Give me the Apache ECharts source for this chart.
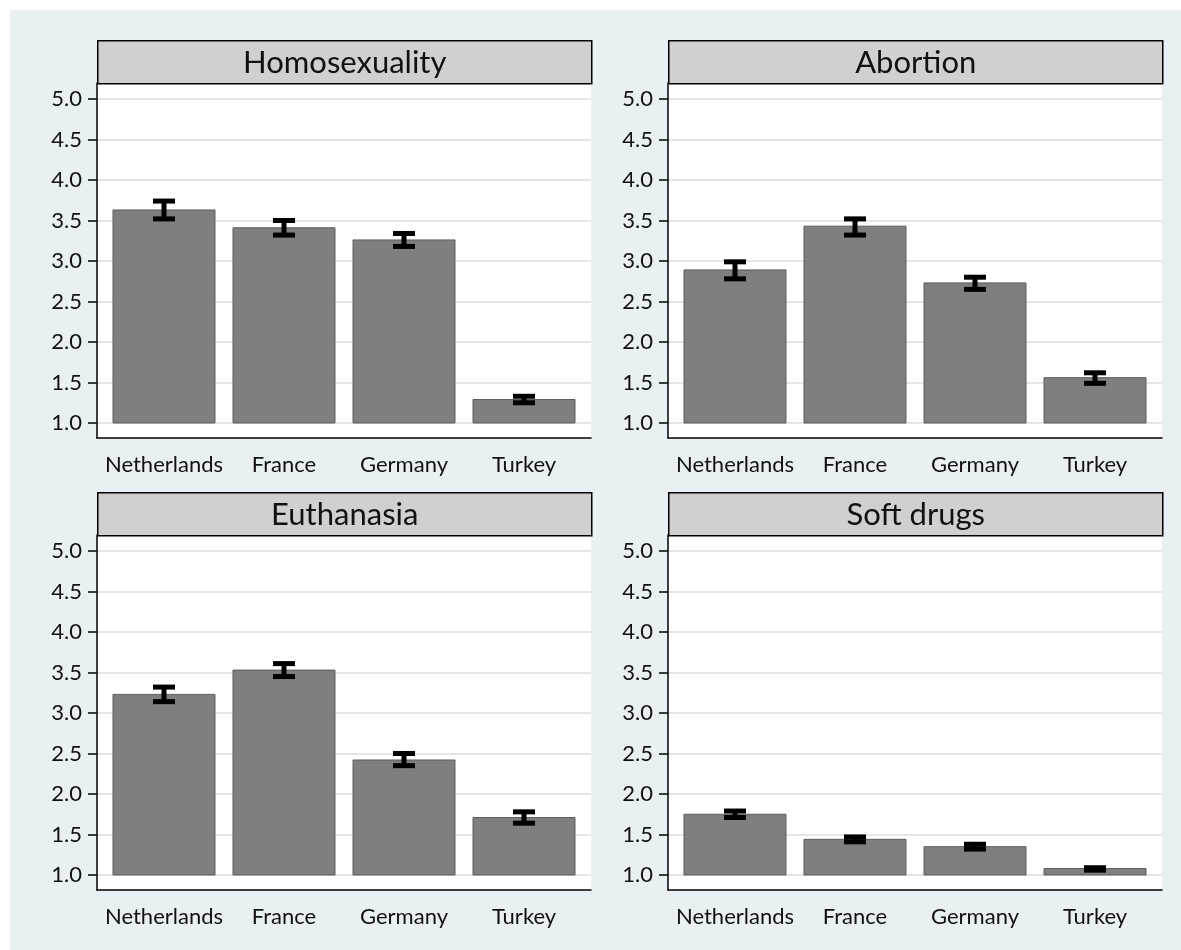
<!DOCTYPE html>
<html>
<head>
  <title>Attitudes by country</title>
  <script src="https://cdn.jsdelivr.net/npm/echarts@6/dist/echarts.min.js"></script>
  <style>
    body { margin: 0; background: #ffffff; }
    #chart { width: 1181px; height: 950px; }
  </style>
</head>
<body>
  <div id="chart"></div>

  <script>
    // Data
    const countries = ['Netherlands', 'France', 'Germany', 'Turkey'];
    const panelTitles = ['Homosexuality', 'Abortion', 'Euthanasia', 'Soft drugs'];
    const yTicks = [1.0, 1.5, 2.0, 2.5, 3.0, 3.5, 4.0, 4.5, 5.0];

    const homosexualityMean = [3.63, 3.41, 3.26, 1.29];
    const homosexualityLow  = [3.52, 3.32, 3.18, 1.25];
    const homosexualityHigh = [3.74, 3.50, 3.34, 1.33];

    const abortionMean = [2.89, 3.43, 2.73, 1.56];
    const abortionLow  = [2.78, 3.32, 2.65, 1.49];
    const abortionHigh = [2.99, 3.52, 2.80, 1.62];

    const euthanasiaMean = [3.23, 3.53, 2.42, 1.71];
    const euthanasiaLow  = [3.14, 3.45, 2.35, 1.64];
    const euthanasiaHigh = [3.32, 3.61, 2.50, 1.78];

    const softDrugsMean = [1.75, 1.44, 1.35, 1.08];
    const softDrugsLow  = [1.71, 1.41, 1.32, 1.06];
    const softDrugsHigh = [1.79, 1.47, 1.38, 1.09];

    const panelData = [
      [homosexualityMean, homosexualityLow, homosexualityHigh],
      [abortionMean, abortionLow, abortionHigh],
      [euthanasiaMean, euthanasiaLow, euthanasiaHigh],
      [softDrugsMean, softDrugsLow, softDrugsHigh]
    ];

    const BASE = 1; // bars start at 1.0
    const BAR_HALF = 0.425;
    const FONT = 'Lato';

    // plot areas (left, top) of each panel, all 494 x 355
    const panelPos = [[97, 83], [668, 83], [97, 535], [668, 535]];
    const PW = 494, PH = 355, HEADER_H = 43;

    const chart = echarts.init(document.getElementById('chart'));

    const grids = [], xAxes = [], yAxes = [], series = [];
    const graphics = [{
      type: 'rect', z: -10, silent: true,
      shape: { x: 10, y: 10, width: 1171, height: 940 },
      style: { fill: '#e9f0f3' }
    }];

    panelPos.forEach((p, i) => {
      grids.push({
        left: p[0], top: p[1], width: PW, height: PH,
        show: true, backgroundColor: '#ffffff', borderWidth: 0
      });
      xAxes.push({
        gridIndex: i, type: 'value', min: -0.5583, max: 3.5583,
        axisLine: { onZero: false, lineStyle: { color: '#000', width: 1.5 } },
        axisTick: { show: false },
        splitLine: { show: false },
        axisLabel: {
          customValues: [0, 1, 2, 3],
          formatter: v => countries[Math.round(v)],
          color: '#111', fontFamily: FONT, fontSize: 22, margin: 10
        }
      });
      yAxes.push({
        gridIndex: i, type: 'value', min: 0.815, max: 5.1975,
        axisLine: { show: true, onZero: false, lineStyle: { color: '#000', width: 1.5 } },
        axisTick: { show: true, length: 9, customValues: yTicks, lineStyle: { color: '#000', width: 1.5 } },
        splitLine: { show: true, lineStyle: { color: '#e6e6e6', width: 2 } },
        axisLabel: {
          customValues: yTicks,
          formatter: v => v.toFixed(1),
          color: '#111', fontFamily: FONT, fontSize: 22, margin: 15
        }
      });

      const [mean, low, high] = panelData[i];
      series.push({
        type: 'custom',
        xAxisIndex: i, yAxisIndex: i,
        data: countries.map((c, k) => [k, mean[k], low[k], high[k]]),
        renderItem: (params, api) => {
          const k = api.value(0);
          const topLeft = api.coord([k - BAR_HALF, api.value(1)]);
          const botRight = api.coord([k + BAR_HALF, BASE]);
          const lo = api.coord([k, api.value(2)]);
          const hi = api.coord([k, api.value(3)]);
          const capW = 11;
          const errStyle = { stroke: '#000', lineWidth: 5, fill: null };
          return {
            type: 'group',
            children: [
              {
                type: 'rect',
                shape: { x: topLeft[0], y: topLeft[1], width: botRight[0] - topLeft[0], height: botRight[1] - topLeft[1] },
                style: { fill: '#7f7f7f', stroke: '#5e5e5e', lineWidth: 1 }
              },
              { type: 'line', shape: { x1: lo[0], y1: lo[1], x2: hi[0], y2: hi[1] }, style: errStyle },
              { type: 'line', shape: { x1: lo[0] - capW, y1: lo[1], x2: lo[0] + capW, y2: lo[1] }, style: errStyle },
              { type: 'line', shape: { x1: hi[0] - capW, y1: hi[1], x2: hi[0] + capW, y2: hi[1] }, style: errStyle }
            ]
          };
        }
      });

      // panel header strip
      graphics.push({
        type: 'group', left: p[0], top: p[1] - HEADER_H,
        children: [
          {
            type: 'rect',
            shape: { x: 0, y: 0, width: PW, height: HEADER_H },
            style: { fill: '#d0d0d0', stroke: '#000', lineWidth: 1.5 }
          },
          {
            type: 'text', x: PW / 2, y: HEADER_H / 2 + 1,
            style: {
              text: panelTitles[i], fill: '#111', font: '31px ' + FONT,
              textAlign: 'center', textVerticalAlign: 'middle'
            }
          }
        ]
      });
    });

    const option = {
      animation: false,
      backgroundColor: '#ffffff',
      grid: grids,
      xAxis: xAxes,
      yAxis: yAxes,
      series: series,
      graphic: graphics
    };

    chart.setOption(option);
  </script>
</body>
</html>
